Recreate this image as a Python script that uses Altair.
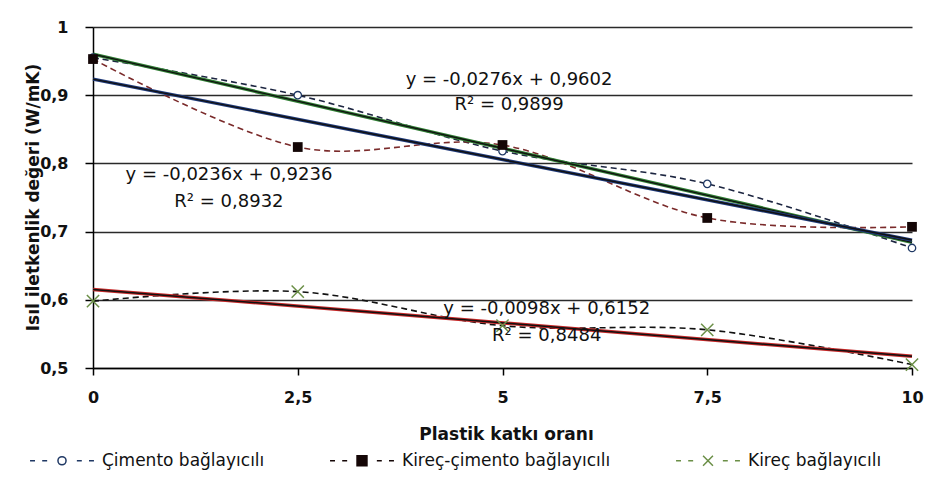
import altair as alt
import pandas as pd

# ---- data ----
x_vals = [0, 2.5, 5, 7.5, 10]
series_names = ["Çimento bağlayıcılı", "Kireç-çimento bağlayıcılı", "Kireç bağlayıcılı"]
cimento = [0.955, 0.900, 0.818, 0.770, 0.676]
kirec_cimento = [0.953, 0.824, 0.827, 0.720, 0.707]
kirec = [0.598, 0.612, 0.562, 0.556, 0.505]

# linear trend lines (from the equations printed on the chart)
slopes = [-0.0276, -0.0236, -0.0098]
intercepts = [0.9602, 0.9236, 0.6152]
r2_values = [0.9899, 0.8932, 0.8484]

x_ticks = [0, 2.5, 5, 7.5, 10]
y_ticks = [0.5, 0.6, 0.7, 0.8, 0.9, 1.0]

# annotation anchors (data units) for the equation labels
eq_x = [5.08, 1.66, 5.54]
eq_y = [0.922, 0.783, 0.586]
r2_y = [0.886, 0.743, 0.547]

# ---- styling ----
FONT = "DejaVu Sans"
dash_colors = ["#1c2540", "#7a2a2a", "#111111"]
trend_colors = ["#2e7d32", "#1f3a7a", "#c62828"]
marker_stroke = ["#1f3864", "#140606", "#6b8f47"]
marker_fill = ["white", "#140606", "transparent"]

U = 4.5  # px per unit for legend symbols
dashes = "M-7.1,0H-6M-4.4,0H-3.3M3.3,0H4.4M6,0H7.1"
legend_paths = [
    dashes + "M0.9,0A0.9,0.9 0 1,1 -0.9,0A0.9,0.9 0 1,1 0.9,0Z",
    dashes + "M-1.1,-1.1H1.1V1.1H-1.1Z",
    dashes + "M-1.1,-1.1L1.1,1.1M-1.1,1.1L1.1,-1.1",
]
x_path = "M-1,-1L1,1M-1,1L1,-1"

# ---- tables ----
values = [cimento, kirec_cimento, kirec]
rows = []
for name, ys in zip(series_names, values):
    for xv, yv in zip(x_vals, ys):
        rows.append({"series": name, "x": xv, "y": yv})
df = pd.DataFrame(rows)

trend_rows = []
for name, s, b in zip(series_names, slopes, intercepts):
    for xv in [x_vals[0], x_vals[-1]]:
        trend_rows.append({"series": name, "x": xv, "y": b + s * xv})
tdf = pd.DataFrame(trend_rows)


def fmt(v):
    return f"{v:.4f}".replace(".", ",")


eq_rows = []
for i, name in enumerate(series_names):
    eq_rows.append({"x": eq_x[i], "y": eq_y[i],
                    "t": f"y = {fmt(slopes[i])}x + {fmt(intercepts[i])}"})
    eq_rows.append({"x": eq_x[i], "y": r2_y[i], "t": f"R² = {fmt(r2_values[i])}"})
edf = pd.DataFrame(eq_rows)

# ---- encodings ----
label_expr = "replace(format(datum.value, '~g'), '.', ',')"
X = alt.X(
    "x:Q",
    scale=alt.Scale(domain=[0, 10], nice=False, zero=False),
    axis=alt.Axis(
        values=x_ticks, labelExpr=label_expr, title="Plastik katkı oranı",
        grid=False, domainColor="black", domainWidth=1.5, tickColor="black",
        tickWidth=1.5, tickSize=7, labelFont=FONT, labelFontSize=16,
        labelFontWeight="bold", labelColor="#111", labelPadding=14,
        labelFlush=False,
        titleFont=FONT, titleFontSize=17, titleFontWeight="bold",
        titleColor="#111", titleX=413, titleY=66, titleBaseline="middle",
        titleAnchor="start", titleAlign="center",
    ),
)
Y = alt.Y(
    "y:Q",
    scale=alt.Scale(domain=[0.5, 1.0], nice=False, zero=False),
    axis=alt.Axis(
        values=y_ticks, labelExpr=label_expr, title="Isıl iletkenlik değeri (W/mK)",
        grid=True, gridColor="#2a2a2a", gridWidth=1.5, domainColor="black",
        domainWidth=1.5, tickColor="black", tickWidth=1.5, tickSize=8,
        labelFont=FONT, labelFontSize=16, labelFontWeight="bold",
        labelColor="#111", labelPadding=17, labelFlush=False,
        titleFont=FONT, titleFontSize=17, titleFontWeight="bold",
        titleColor="#111", titleX=-60, titleY=170, titleAngle=-90,
        titleAlign="center", titleBaseline="middle", titleAnchor="start",
    ),
)

layers = []
# dashed smoothed series lines
for i, name in enumerate(series_names):
    layers.append(
        alt.Chart(df).transform_filter(alt.datum.series == name)
        .mark_line(interpolate="cardinal", strokeDash=[6, 4], strokeWidth=1.6,
                   color=dash_colors[i])
        .encode(x=X, y=Y)
    )
# trend lines (coloured rim + dark core)
for i, name in enumerate(series_names):
    base = alt.Chart(tdf).transform_filter(alt.datum.series == name)
    layers.append(base.mark_line(strokeWidth=3.4, color=trend_colors[i]).encode(x=X, y=Y))
    layers.append(base.mark_line(strokeWidth=1.4, color="#111111").encode(x=X, y=Y))
# markers
layers.append(
    alt.Chart(df).transform_filter(alt.datum.series == series_names[0])
    .mark_point(shape="circle", size=55, filled=True, fill="white",
                stroke=marker_stroke[0], strokeWidth=1.3, opacity=1)
    .encode(x=X, y=Y)
)
layers.append(
    alt.Chart(df).transform_filter(alt.datum.series == series_names[1])
    .mark_point(shape="square", size=95, filled=True, color=marker_stroke[1], opacity=1)
    .encode(x=X, y=Y)
)
layers.append(
    alt.Chart(df).transform_filter(alt.datum.series == series_names[2])
    .mark_point(shape=x_path, size=150, filled=False, color=marker_stroke[2],
                strokeWidth=1.5, opacity=1)
    .encode(x=X, y=Y)
)

# legend-only layer
leg = alt.Legend(
    orient="none", legendX=-39.5, legendY=425, direction="horizontal",
    title=None, labelFont=FONT, labelFontSize=17, labelColor="#111",
    labelLimit=0,
    symbolSize=(2 * U) ** 2, symbolStrokeWidth=1.5, labelOffset=31.5,
    columnPadding=62, symbolOpacity=1, padding=0, symbolOffset=0,
)
layers.append(
    alt.Chart(df).mark_point(opacity=0, filled=True)
    .encode(
        x=X, y=Y,
        shape=alt.Shape("series:N", scale=alt.Scale(domain=series_names, range=legend_paths), legend=leg),
        fill=alt.Fill("series:N", scale=alt.Scale(domain=series_names, range=marker_fill), legend=leg),
        stroke=alt.Stroke("series:N", scale=alt.Scale(domain=series_names, range=marker_stroke), legend=leg),
    )
)

# equations
layers.append(
    alt.Chart(edf).mark_text(font=FONT, fontSize=18, color="#111", align="center",
                             baseline="middle")
    .encode(x=X, y=Y, text="t:N")
)

chart = alt.layer(*layers).properties(
    width=819, height=341,
    autosize=alt.AutoSizeParams(type="none"),
    padding={"left": 85, "top": 19, "right": 27, "bottom": 111},
    background="white",
).configure_view(stroke=None)

chart.save("out.html", embed_options={"renderer": "svg", "actions": False})
